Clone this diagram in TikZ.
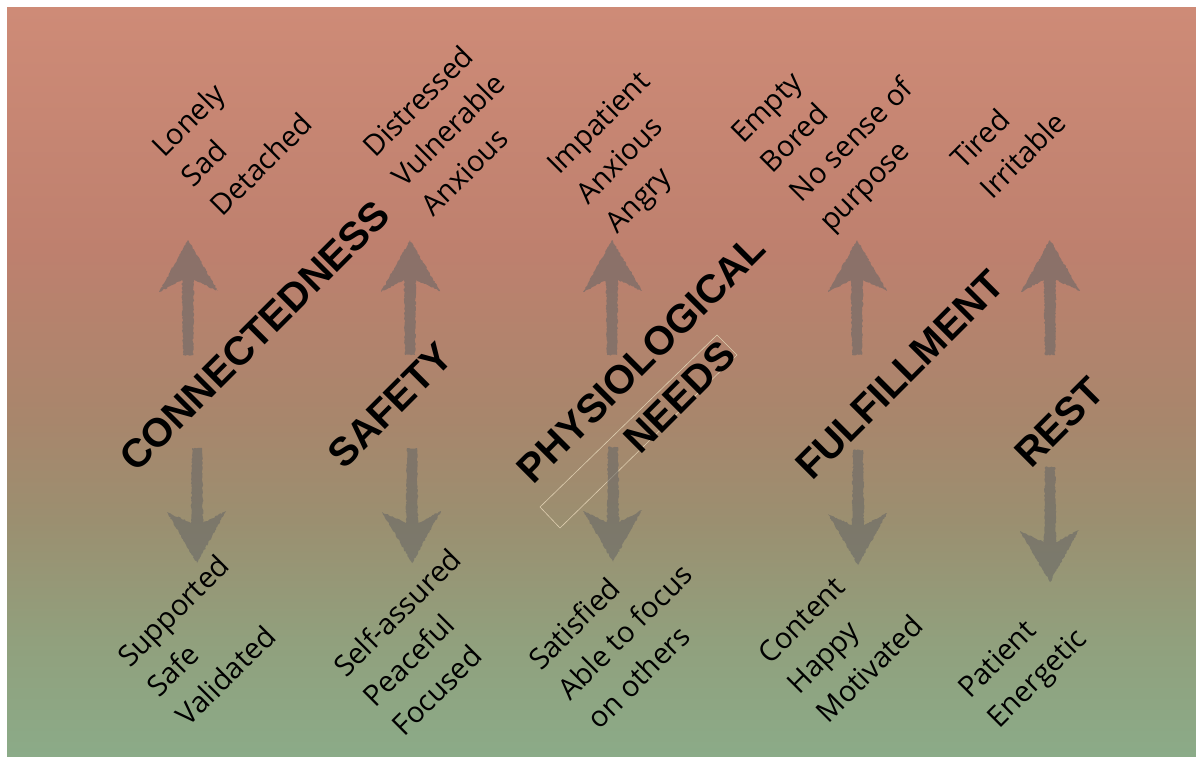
\documentclass[tikz,border=0pt]{standalone}
\usepackage{fontspec}
\usetikzlibrary{decorations.pathmorphing}
\setmainfont{Open Sans}
\newfontfamily\headfont{Liberation Sans}
\definecolor{bgA}{RGB}{206,139,119}
\definecolor{bgB}{RGB}{190,128,110}
\definecolor{bgC}{RGB}{168,134,108}
\definecolor{bgD}{RGB}{155,143,112}
\definecolor{bgE}{RGB}{145,160,125}
\definecolor{bgF}{RGB}{139,171,136}
\definecolor{chalkgray}{RGB}{102,102,102}
\definecolor{boxline}{RGB}{222,206,176}
\begin{document}
\begin{tikzpicture}[x=1pt,y=-1pt,
  % anchor sits on the baseline of the last line of each label
  feel/.style={rotate=45, anchor=base west, inner sep=0pt, align=left,
    font=\fontsize{29}{41.5}\selectfont, text=black},
  need/.style={rotate=45, anchor=base west, inner sep=0pt,
    font=\headfont\bfseries\fontsize{40}{54}\selectfont, text=black},
  chalk/.style={fill=chalkgray, fill opacity=0.57,
    decorate, decoration={random steps, segment length=1.6pt, amplitude=0.7pt}},
  pics/chalkarrow/.style={code={
    \fill[chalk] (0,0) -- (30,51) -- (6,40) -- (5,115) -- (-5,115)
      -- (-6,40) -- (-29,52) -- cycle;}}
]
\pgfmathsetseed{7}
% page and graded backdrop
\useasboundingbox (0,0) rectangle (1196,757);
\fill[white] (0,0) rectangle (1196,757);
\shade[top color=bgA, bottom color=bgB] (7,8) rectangle (1196,250.5);
\shade[top color=bgB, bottom color=bgC] (7,250) rectangle (1196,420.5);
\shade[top color=bgC, bottom color=bgD] (7,420) rectangle (1196,520.5);
\shade[top color=bgD, bottom color=bgE] (7,520) rectangle (1196,640.5);
\shade[top color=bgE, bottom color=bgF] (7,640) rectangle (1196,757);

% leftover outline behind NEEDS
\coordinate (b1) at (540,507);
\coordinate (b2) at (560,528);
\coordinate (b3) at (737,355);
\coordinate (b4) at (717,335);
\draw[boxline, line width=0.6pt] (b1) -- (b2) -- (b3) -- (b4) -- cycle;

% arrows pointing to unmet states
\pic (u1) at (188,240) {chalkarrow};
\pic (u2) at (410,240) {chalkarrow};
\pic (u3) at (612,240) {chalkarrow};
\pic (u4) at (857,240) {chalkarrow};
\pic (u5) at (1050,240) {chalkarrow};
% arrows pointing to met states
\pic[rotate=180] (d1) at (197,563) {chalkarrow};
\pic[rotate=180] (d2) at (412,563) {chalkarrow};
\pic[rotate=180] (d3) at (613,562) {chalkarrow};
\pic[rotate=180] (d4) at (858,565) {chalkarrow};
\pic[rotate=180] (d5) at (1050,582) {chalkarrow};

% needs
\node[need] (conn) at (136,474) {CONNECTEDNESS};
\node[need] (safe) at (344,471) {SAFETY};
\node[need, align=center] (phys) at (572,524) {PHYSIOLOGICAL\\NEEDS};
\node[need] (fulf) at (812,482) {FULFILLMENT};
\node[need] (rest) at (1031,470) {REST};

% feelings when a need is unmet
\node[feel] (t1) at (222.6,217.6) {Lonely\\Sad\\Detached};
\node[feel] (t2) at (433.6,217.6) {Distressed\\Vulnerable\\Anxious};
\node[feel] (t3) at (617.6,234.6) {Impatient\\Anxious\\Angry};
\node[feel] (t4) at (830.9,232.9) {Empty\\Bored\\No sense of\\purpose};
\node[feel] (t5) at (992.3,200.3) {Tired\\Irritable};

% feelings when a need is met
\node[feel] (m1) at (188.6,727.6) {Supported\\Safe\\Validated};
\node[feel] (m2) at (404.6,737.6) {Self-assured\\Peaceful\\Focused};
\node[feel] (m3) at (599.6,730.6) {Satisfied\\Able to focus\\on others};
\node[feel] (m4) at (828.6,724.6) {Content\\Happy\\Motivated};
\node[feel] (m5) at (999.3,729.3) {Patient\\Energetic};
\end{tikzpicture}
\end{document}
